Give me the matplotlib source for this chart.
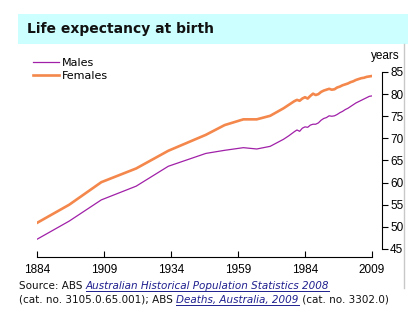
import matplotlib
matplotlib.use("Agg")
import matplotlib.pyplot as plt
from matplotlib.patches import Rectangle
from matplotlib.lines import Line2D

years = [1884, 1896, 1908, 1921, 1933, 1947, 1954, 1961, 1966, 1971, 1976, 1978,
         1980, 1981, 1982, 1983, 1984, 1985, 1986, 1987, 1988, 1989, 1990, 1991,
         1992, 1993, 1994, 1995, 1996, 1997, 1998, 1999, 2000, 2001, 2002, 2003,
         2004, 2005, 2006, 2007, 2008, 2009]
males = [47.2, 51.3, 56.1, 59.2, 63.7, 66.6, 67.3, 67.9, 67.6, 68.2, 69.8, 70.6,
         71.5, 71.9, 71.6, 72.3, 72.6, 72.5, 73.0, 73.2, 73.2, 73.5, 74.1, 74.5,
         74.7, 75.1, 75.0, 75.1, 75.4, 75.8, 76.1, 76.5, 76.8, 77.2, 77.6, 78.0,
         78.3, 78.6, 78.9, 79.2, 79.5, 79.6]
females = [50.9, 55.0, 60.1, 63.2, 67.2, 70.8, 73.0, 74.3, 74.3, 75.1, 76.8, 77.6,
           78.4, 78.7, 78.5, 79.0, 79.3, 79.0, 79.6, 80.1, 79.8, 80.0, 80.5, 80.8,
           81.0, 81.2, 81.0, 81.1, 81.5, 81.7, 82.0, 82.2, 82.4, 82.7, 82.9, 83.2,
           83.4, 83.6, 83.7, 83.9, 84.0, 84.1]
x_ticks = [1884, 1909, 1934, 1959, 1984, 2009]
y_ticks = [45, 50, 55, 60, 65, 70, 75, 80, 85]

male_col = "#A020A8"
female_col = "#F4874B"
link_col = "#1F1F8F"
W, H = 415, 322

fig = plt.figure(figsize=(W / 100, H / 100), dpi=100)
fig.patch.set_facecolor("white")

# title band
fig.patches.append(Rectangle((18 / W, 1 - 44 / H), 390 / W, 30 / H,
                             transform=fig.transFigure, facecolor="#CCFFFF",
                             edgecolor="none"))
fig.text(27 / W, 1 - 29.5 / H, "Life expectancy at birth", fontsize=10,
         fontweight="bold", va="center", ha="left", color="#111111")
# thin grey frame line on the right
fig.lines.append(Line2D([404 / W, 404 / W], [1 - 44 / H, 1 - 288 / H],
                        transform=fig.transFigure, color="#C8C8C8", lw=1))

ax = fig.add_axes([37 / W, 1 - 257 / H, 335 / W, 185 / H])
ax.plot(years, males, color=male_col, lw=0.9, label="Males")
ax.plot(years, females, color=female_col, lw=1.9, label="Females")
ax.set_xlim(1884, 2009)
ax.set_ylim(45 - 8 / 4.425, 85)

for s in ["top", "left"]:
    ax.spines[s].set_visible(False)
ax.spines["right"].set_position(("outward", 7))
ax.spines["right"].set_bounds(45, 85)
ax.spines["bottom"].set_bounds(1884, 2009)
ax.yaxis.tick_right()
ax.set_yticks(y_ticks)
ax.set_xticks(x_ticks)
ax.tick_params(axis="y", direction="out", length=4, width=0.8, pad=2, labelsize=8.5)
ax.tick_params(axis="x", direction="in", length=4, width=0.8, pad=5, labelsize=8.5)
for lab in ax.get_xticklabels() + ax.get_yticklabels():
    lab.set_family(["Liberation Sans", "DejaVu Sans"])

ax.legend(loc="upper left", bbox_to_anchor=(-0.025, 1.1), frameon=False,
          fontsize=8, handlelength=2.3, handletextpad=0.3, labelspacing=0.25,
          borderaxespad=0)

fig.text(400 / W, 1 - 56 / H, "years", ha="right", va="center", fontsize=8.5,
         family=["Liberation Sans", "DejaVu Sans"])

# source note with link-style pieces
fig.canvas.draw()
renderer = fig.canvas.get_renderer()


def note_line(y, pieces):
    x = 19 / W
    for txt, link in pieces:
        t = fig.text(x, y, txt, fontsize=7.5, ha="left", va="baseline",
                     color=link_col if link else "#111111",
                     style="italic" if link else "normal")
        bb = t.get_window_extent(renderer)
        if link:
            fig.lines.append(Line2D([x, x + bb.width / W], [y - 2 / H, y - 2 / H],
                                    transform=fig.transFigure, color=link_col, lw=0.7))
        x += bb.width / W


note_line(1 - 289 / H, [("Source: ABS ", False),
                        ("Australian Historical Population Statistics 2008", True)])
note_line(1 - 303 / H, [("(cat. no. 3105.0.65.001); ABS ", False),
                        ("Deaths, Australia, 2009", True),
                        (" (cat. no. 3302.0)", False)])

fig.savefig("out.png", dpi=100)
